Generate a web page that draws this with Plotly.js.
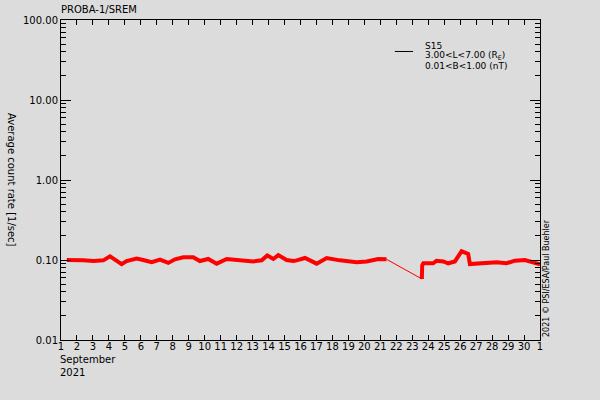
<!DOCTYPE html>
<html>
<head>
<meta charset="utf-8">
<script src="https://cdn.plot.ly/plotly-3.0.1.min.js"></script>
<style>
  html, body { margin: 0; padding: 0; background: #dcdcdc; }
  #srem { width: 600px; height: 400px; }
</style>
</head>
<body>
<div id="srem"></div>
<script>
// S15 channel, day of September 2021 (fractional) before the data gap
const dayA = [1.36, 1.9, 2.40, 3.03, 3.65, 4.07, 4.38, 4.80, 5.11, 5.74, 6.15, 6.68, 7.20, 7.72,
    8.14, 8.66, 9.28, 9.70, 10.22, 10.75, 11.38, 12.21, 13.04, 13.57, 13.92, 14.30, 14.61,
    15.13, 15.55, 15.76, 16.28, 17.01, 17.64, 18.47, 19.52, 20.14, 20.87, 21.39];
const rateA = [0.100, 0.100, 0.099, 0.097, 0.099, 0.111, 0.100, 0.089, 0.097, 0.104, 0.100, 0.094,
    0.101, 0.092, 0.102, 0.108, 0.108, 0.097, 0.103, 0.090, 0.103, 0.099, 0.096, 0.099, 0.114,
    0.103, 0.115, 0.100, 0.097, 0.099, 0.106, 0.090, 0.106, 0.099, 0.094, 0.096, 0.103, 0.102];

// after the gap
const dayB = [23.60, 23.62, 23.69, 24.31, 24.52, 24.94, 25.25, 25.67, 26.09, 26.50, 26.61,
    27.3, 28.28, 28.9, 29.43, 30.05, 30.58, 30.89, 31.0];
const rateB = [0.058, 0.085, 0.091, 0.091, 0.098, 0.096, 0.091, 0.096, 0.129, 0.119, 0.089,
    0.091, 0.094, 0.091, 0.098, 0.100, 0.094, 0.089, 0.088];

const dayTicks = Array.from({ length: 31 }, (_, i) => i + 1);
const dayLabels = dayTicks.map(d => d === 31 ? '1' : String(d));

const font = { family: 'DejaVu Sans, sans-serif', size: 10, color: 'black' };
const small = { family: 'DejaVu Sans, sans-serif', size: 8, color: 'black' };
const legFont = { family: 'DejaVu Sans, sans-serif', size: 9, color: 'black' };
const red = '#ff0000';

const data = [
    {
        x: dayA, y: rateA, type: 'scatter', mode: 'lines',
        line: { color: red, width: 4 }
    },
    {
        // thin line bridging the gap
        x: [dayA[dayA.length - 1], dayB[0]],
        y: [rateA[rateA.length - 1], rateB[0]],
        type: 'scatter', mode: 'lines',
        line: { color: red, width: 1 }
    },
    {
        x: dayB, y: rateB, type: 'scatter', mode: 'lines',
        line: { color: red, width: 4 }
    }
];

const layout = {
    width: 600, height: 400,
    margin: { l: 61, r: 60, t: 20, b: 60 },
    paper_bgcolor: '#dcdcdc',
    plot_bgcolor: '#dcdcdc',
    font: font,
    showlegend: false,
    xaxis: {
        range: [1, 31],
        tickmode: 'array', tickvals: dayTicks, ticktext: dayLabels,
        ticks: 'inside', ticklen: 5, tickcolor: 'black',
        ticklabelstandoff: -3,
        showline: true, linecolor: 'black', linewidth: 1, mirror: 'ticks',
        showgrid: false, zeroline: false,
        tickfont: font
    },
    yaxis: {
        type: 'log', range: [-2, 2],
        dtick: 1, tickformat: '.2f',
        ticks: 'inside', ticklen: 10, tickcolor: 'black',
        minor: { ticks: 'inside', ticklen: 5, tickcolor: 'black', dtick: 'D1', showgrid: false },
        showline: true, linecolor: 'black', linewidth: 1, mirror: 'ticks',
        showgrid: false, zeroline: false,
        tickfont: font
    },
    shapes: [
        { type: 'line', xref: 'paper', yref: 'paper', x0: 0.697, x1: 0.735, y0: 0.9016, y1: 0.9016,
          line: { color: 'black', width: 1 } }
    ],
    annotations: [
        { text: 'PROBA-1/SREM', xref: 'paper', yref: 'paper', x: 0, xshift: -2, y: 1, yshift: 3,
          xanchor: 'left', yanchor: 'bottom', showarrow: false, font: font },
        { text: 'Average count rate [1/sec]', xref: 'paper', yref: 'paper', x: 0, xshift: -49, y: 0.5,
          textangle: 90, xanchor: 'center', yanchor: 'middle', showarrow: false, font: font },
        { text: 'September<br>2021', xref: 'paper', yref: 'paper', x: 0, xshift: -3, y: 0, yshift: -12,
          xanchor: 'left', yanchor: 'top', align: 'left', showarrow: false, font: font },
        { text: '2021 © PSI/ESA/Paul Buehler', xref: 'paper', yref: 'paper', x: 1, xshift: 6, y: 0, yshift: 1,
          textangle: -90, xanchor: 'center', yanchor: 'bottom', showarrow: false, font: small },
        { text: 'S15', xref: 'paper', yref: 'paper', x: 0.756, y: 0.920,
          xanchor: 'left', yanchor: 'middle', showarrow: false, font: legFont },
        { text: '3.00<L<7.00 (R<sub>E</sub>)', xref: 'paper', yref: 'paper', x: 0.756, y: 0.889,
          xanchor: 'left', yanchor: 'middle', showarrow: false, font: legFont },
        { text: '0.01<B<1.00 (nT)', xref: 'paper', yref: 'paper', x: 0.756, y: 0.857,
          xanchor: 'left', yanchor: 'middle', showarrow: false, font: legFont }
    ]
};

Plotly.newPlot('srem', data, layout, { staticPlot: true });
</script>
</body>
</html>
